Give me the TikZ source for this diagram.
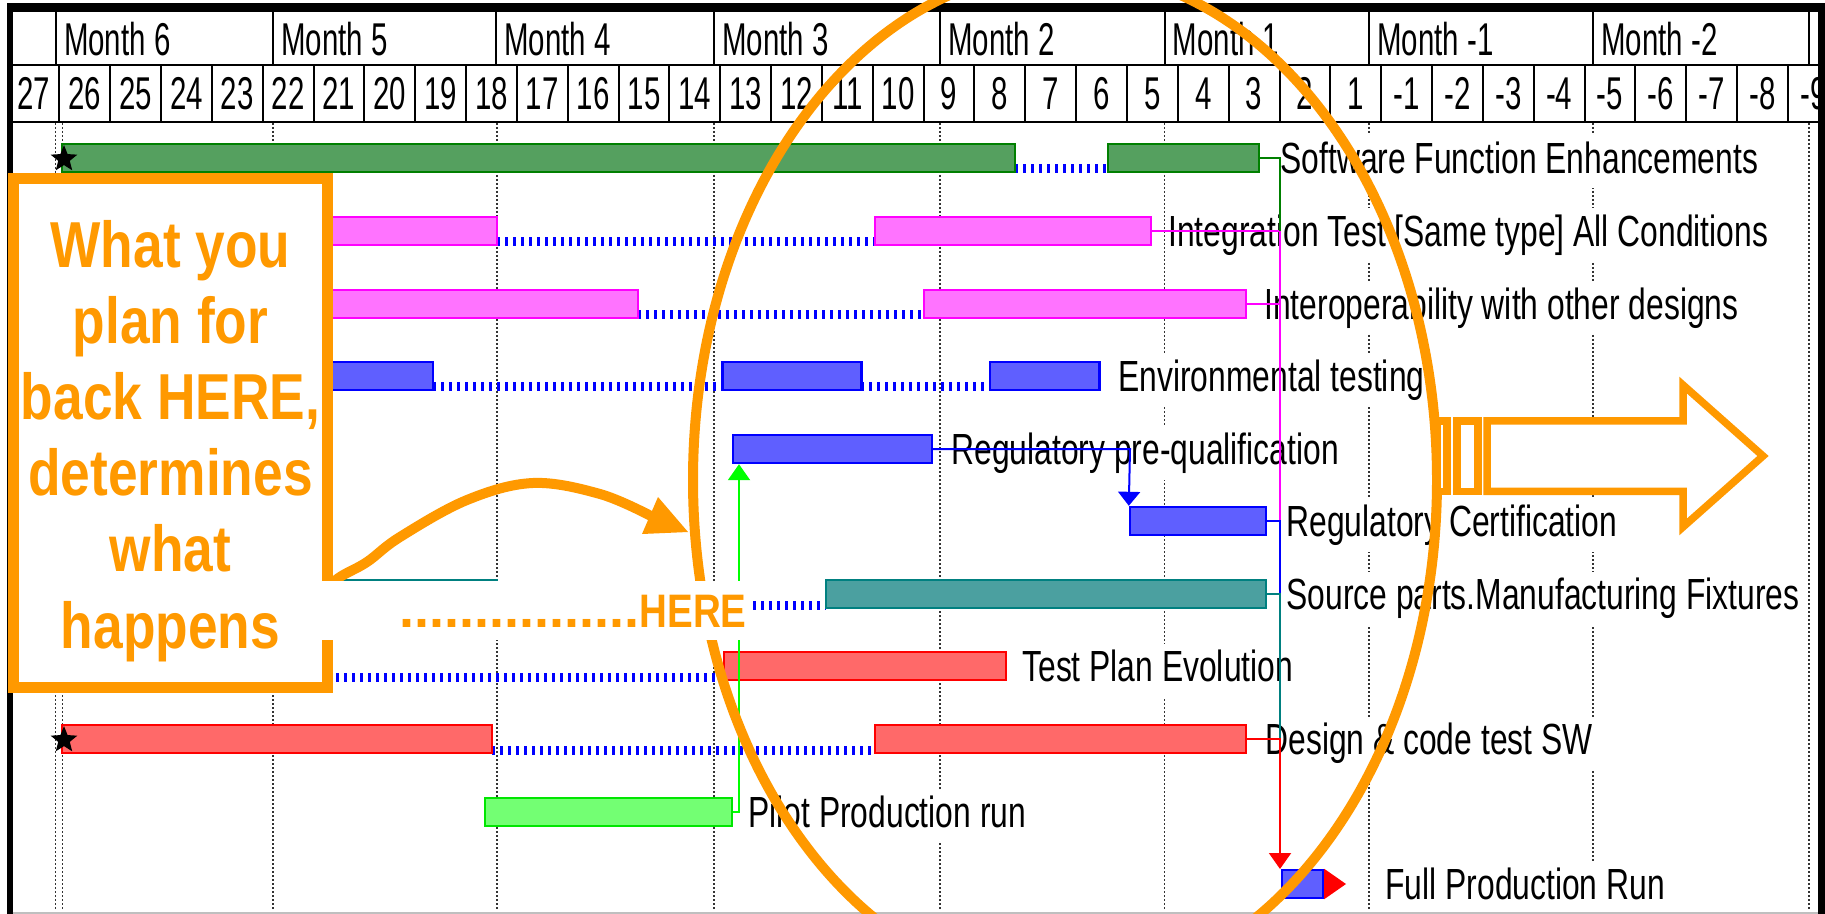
\documentclass[tikz,border=0pt]{standalone}
\usepackage{fontspec}
\setmainfont{Liberation Sans}
\newfontfamily\lblfont[FakeStretch=0.73]{Liberation Sans}
\newfontfamily\hdrfont[FakeStretch=0.64]{Liberation Sans}
\newfontfamily\boxfont[FakeStretch=0.82]{Liberation Sans}
\newfontfamily\dotfont{Liberation Sans}
\usetikzlibrary{shapes.geometric,fit,arrows.meta}
\definecolor{annor}{RGB}{255,153,0}
\definecolor{gGreenB}{RGB}{0,128,0}
\definecolor{gGreenF}{RGB}{85,160,95}
\definecolor{gMagB}{RGB}{255,0,255}
\definecolor{gMagF}{RGB}{255,115,255}
\definecolor{gBlueB}{RGB}{0,0,255}
\definecolor{gBlueF}{RGB}{95,95,255}
\definecolor{gTealB}{RGB}{0,128,128}
\definecolor{gTealF}{RGB}{75,160,160}
\definecolor{gRedB}{RGB}{255,0,0}
\definecolor{gRedF}{RGB}{255,105,105}
\definecolor{gLimeB}{RGB}{0,230,0}
\definecolor{gLimeF}{RGB}{115,255,115}
\definecolor{gLime}{RGB}{0,255,0}
\tikzset{
  barbase/.style={rectangle, inner sep=0pt, line width=1.2pt},
  gbar/.style={barbase, draw=gGreenB, fill=gGreenF},
  mbar/.style={barbase, draw=gMagB, fill=gMagF},
  bbar/.style={barbase, draw=gBlueB, fill=gBlueF},
  tbar/.style={barbase, draw=gTealB, fill=gTealF},
  rbar/.style={barbase, draw=gRedB, fill=gRedF},
  lbar/.style={barbase, draw=gLimeB, fill=gLimeF},
  slack/.style={draw=gBlueB, line width=4.5pt, dash pattern=on 1.25pt off 2.75pt},
  gridln/.style={draw=black!80, line width=0.75pt, dash pattern=on 1pt off 1pt},
  hline/.style={draw=black, line width=1pt},
  hdr/.style={font={\hdrfont\fontsize{23pt}{26pt}\selectfont}, inner sep=0pt},
  lbl/.style={font={\lblfont\fontsize{21.8pt}{24pt}\selectfont}, anchor=base west, fill=white,
              inner xsep=1.5pt, inner ysep=3pt, text height=16pt, text depth=4.5pt},
  conn/.style={line width=1pt},
  tipdown/.style={-{Triangle[length=8pt,width=11pt]}},
  mstar/.style={star, star points=5, star point ratio=2.3, fill=black, minimum size=14pt, inner sep=0pt},
  planbox/.style={rectangle, draw=annor, line width=5.5pt, fill=white, inner sep=0pt},
  boxtxt/.style={font={\boxfont\bfseries\fontsize{32.5pt}{38.1pt}\selectfont}, text=annor, align=center, inner sep=0pt},
  annline/.style={draw=annor, line width=5pt},
  blockarrow/.style={draw=annor, line width=3.75pt, fill=white, miter limit=10}
}
\begin{document}
\begin{tikzpicture}[x=0.5pt,y=-0.5pt]
\useasboundingbox (0,0) rectangle (1825,914);
\fill[white] (0,0) rectangle (1825,914);

% ---- vertical dotted gridlines
\foreach \gx in {55.7,62.5,273,497,714,940,1164.5,1369,1593,1809}
  \draw[gridln] (\gx,123) -- (\gx,911);

% ---- slack (dotted) lines
\draw[slack] (1015,169) -- (1108,169);
\draw[slack] (497,242) -- (875,242);
\draw[slack] (638,315) -- (924,315);
\draw[slack] (433,387) -- (722,387);
\draw[slack] (861,387) -- (990,387);
\draw[slack] (497,605) -- (826,605);
\draw[slack] (320,677) -- (724,677);
\draw[slack] (492,750) -- (875,750);

% ---- bars
\node[gbar, fit={(62,144)(1015,172)}] (sw1) {};
\node[gbar, fit={(1108,144)(1259,172)}] (sw2) {};
\node[mbar, fit={(320,217)(497,245)}] (it1) {};
\node[mbar, fit={(875,217)(1151,245)}] (it2) {};
\node[mbar, fit={(320,290)(638,318)}] (io1) {};
\node[mbar, fit={(924,290)(1246,318)}] (io2) {};
\node[bbar, fit={(320,362)(433,390)}] (en1) {};
\node[bbar, fit={(722.5,362)(861.5,390)}] (en2) {};
\node[bbar, fit={(990,362)(1099.5,390)}] (en3) {};
\node[bbar, fit={(733,435)(932,463)}] (rp) {};
\node[bbar, fit={(1130,507)(1266,535)}] (rc) {};
\node[tbar, fit={(320,580)(497,608)}] (sp1) {};
\node[tbar, fit={(826,580)(1266,608)}] (sp2) {};
\node[rbar, fit={(724,652)(1006,680)}] (tp) {};
\node[rbar, fit={(62,725)(492,753)}] (dc1) {};
\node[rbar, fit={(875,725)(1246,753)}] (dc2) {};
\node[lbar, fit={(485,798)(732,826)}] (pp) {};
\node[bbar, fit={(1282,870)(1323,898)}] (fp) {};
\fill[gRedB] (fp.north east) -- (1346,884) -- (fp.south east) -- cycle;

% ---- task labels
\node[lbl] (l1) at (1277,173.5) {Software Function Enhancements};
\node[lbl] (l2) at (1165,246.5) {Integration Test [Same type] All Conditions};
\node[lbl] (l3) at (1261,319.5) {Interoperability with other designs};
\node[lbl] (l4) at (1115,391.5) {Environmental testing};
\node[lbl] (l5) at (948,464.5) {Regulatory pre-qualification};
\node[lbl] (l6) at (1283,536.5) {Regulatory Certification};
\node[lbl] (l7) at (1283,609.5) {Source parts.Manufacturing Fixtures};
\node[lbl] (l8) at (1019,681.5) {Test Plan Evolution};
\node[lbl] (l9) at (1262,754.5) {Design \& code test SW};
\node[lbl] (l10) at (745,827.5) {Pilot Production run};
\node[lbl] (l11) at (1382,899.5) {Full Production Run};

% ---- dependency connectors
\coordinate (j2) at (1280,231);
\coordinate (j3) at (1280,304);
\coordinate (j6) at (1280,521);
\coordinate (j7) at (1280,594);
\coordinate (j9) at (1280,739);
\coordinate (fpin) at (1280,869);
\coordinate (k5) at (1130,449);
\coordinate (k10) at (739,812);
\draw[conn, gMagB] (it2.east) -- (j2) -- (j6);
\draw[conn, gMagB] (io2.east) -- (j3);
\draw[conn, gGreenB] (sw2.east) -| (j2);
\draw[conn, gBlueB] (rc.east) -- (j6) -- (j7);
\draw[conn, gTealB] (sp2.east) -- (j7) -- (j9);
\draw[conn, gRedB, tipdown] (dc2.east) -- (j9) -- (fpin);
\draw[conn, gBlueB, -{Triangle[length=7pt,width=11pt]}] (rp.east) -- (k5) -- (rc.north west);
\draw[conn, gLime, -{Triangle[length=8pt,width=11pt]}] (pp.east) -- (k10) -- (k10 |- rp.south);

% ---- milestone stars
\node[mstar] (st1) at (64,159) {};
\node[mstar] (st2) at (64,740) {};

% ---- header
\begin{scope}
\clip (12.5,0) rectangle (1818,914);
\fill[white] (12.5,11.7) rectangle (1818,122);
\draw[hline] (12.5,65) -- (1818,65);
\draw[hline] (12.5,122) -- (1818,122);
\foreach \mx in {55.7,272.8,495.8,714,940,1164.5,1369,1593,1808.5}
  \draw[hline] (\mx,11.7) -- (\mx,65);
\foreach \mx/\mt [count=\k] in {55.7/Month 6,272.8/Month 5,495.8/Month 4,714/Month 3,940/Month 2,1164.5/Month 1,1369/Month -1,1593/Month -2}
  \node[hdr, anchor=base west] (mon\k) at ({\mx+8},56) {\mt};
\foreach \i in {1,...,35}
  \draw[hline] ({8.5+50.84*\i},65) -- ({8.5+50.84*\i},122);
\foreach \dl [count=\i from 0] in {27,26,25,24,23,22,21,20,19,18,17,16,15,14,13,12,11,10,9,8,7,6,5,4,3,2,1,-1,-2,-3,-4,-5,-6,-7,-8,-9}
  \node[hdr, anchor=base] (wk\i) at ({8.5+50.84*(\i+0.5)},110) {\dl};
\end{scope}
% frame
\fill[black] (6.5,3) rectangle (1825,11.7);
\fill[black] (6.5,3) rectangle (12.5,914);
\fill[black] (1818,3) rectangle (1825,914);
\draw[black!25, line width=1pt] (12.5,912.5) -- (1818,912.5);

% ---- orange annotation box
\node[planbox, fit={(13,179)(327.5,687.5)}] (box) {};
\node[boxtxt] (plantext) at (170.5,440.7) {What you\\plan for\\back HERE,\\determines\\what\\happens};

% ---- big ellipse
\draw[annline] (1065,480) ellipse [x radius=372, y radius=510];

% ---- curved arrow
\coordinate (cbase) at (650,515.5);
\coordinate (ctip) at (688,532);
\draw[annline, line cap=round] plot[smooth, tension=0.6] coordinates {(322,592) (340,577) (367,562) (400,537) (467,500) (533,483) (600,494) (650,515.5)};
\fill[annor] (658,497) -- (ctip) -- (642,534) -- cycle;

% ---- HERE label
\fill[white] (300,581) rectangle (750,640);
\node[anchor=base east, inner sep=0pt, text=annor] (here) at (747,627)
  {{\dotfont\bfseries\fontsize{27pt}{30pt}\selectfont ................}{\boxfont\bfseries\fontsize{23.5pt}{26pt}\selectfont HERE}};

% ---- block arrow to the right
\draw[blockarrow] (1437,421) rectangle (1447,491.3);
\draw[blockarrow] (1457,421) rectangle (1478,491.3);
\draw[blockarrow] (1487,421) -- (1683,421) -- (1683,385) -- (1763,456) -- (1683,527) -- (1683,491.3) -- (1487,491.3) -- cycle;
\end{tikzpicture}
\end{document}
